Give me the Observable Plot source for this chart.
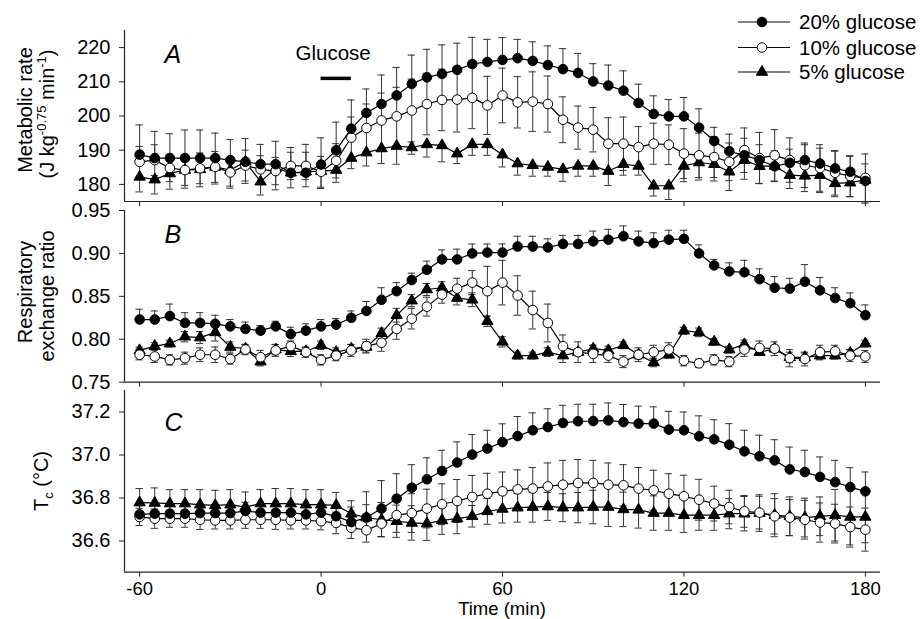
<!DOCTYPE html>
<html><head><meta charset="utf-8">
<script src="https://cdn.jsdelivr.net/npm/d3@7"></script>
<script src="https://cdn.jsdelivr.net/npm/@observablehq/plot@0.6"></script>
<style>
body{margin:0;background:#fff;}
#wrap{position:relative;width:922px;height:619px;overflow:hidden;font-family:"Liberation Sans",Arial,Helvetica,sans-serif;background:#fff;}
#wrap svg{position:absolute;left:0;overflow:visible;}
</style></head><body><div id="wrap"></div>
<script>
// ---- data ----
const time = [-60,-55,-50,-45,-40,-35,-30,-25,-20,-15,-10,-5,0,5,10,15,20,25,30,35,40,45,50,55,60,65,70,75,80,85,90,95,100,105,110,115,120,125,130,135,140,145,150,155,160,165,170,175,180];
const seriesNames = ["20% glucose","10% glucose","5% glucose"];
const xTicks = [-60,0,60,120,180];
const glucoseStart = 0, glucoseEnd = 10;

// Panel A: metabolic rate
const rate20 = [188.7,187.7,187.7,187.7,187.7,187.7,187.1,186.6,185.9,185.9,183.4,183.4,185.8,190.0,196.3,200.9,203.5,206.0,209.4,211.3,212.3,213.5,215.2,215.8,216.4,216.9,216.1,214.9,213.7,212.6,210.1,208.9,207.4,203.8,200.6,199.9,199.9,196.6,192.7,189.7,188.5,187.1,185.3,186.3,187.1,186.1,184.7,183.7,181.0];
const rate10 = [186.6,187.1,184.8,184.2,184.7,185.1,183.5,185.5,184.4,183.9,185.4,185.4,183.7,186.9,193.7,196.5,198.7,199.9,201.6,203.5,204.7,204.8,205.3,203.1,206.0,204.0,204.2,203.5,198.9,196.6,196.0,191.9,191.9,190.9,191.9,191.6,189.0,188.5,188.0,186.6,190.0,187.7,188.5,187.1,185.6,184.8,183.4,182.4,181.9];
const rate5 = [182.2,181.4,183.2,184.2,184.4,185.1,184.2,186.6,180.8,184.7,183.4,183.7,183.9,184.2,187.7,189.3,190.5,191.2,190.8,191.7,191.4,189.0,191.7,191.7,188.7,186.1,185.6,185.1,184.4,185.4,185.4,183.9,185.9,185.4,179.6,179.6,185.4,186.4,185.9,183.7,187.1,185.3,185.4,182.7,182.5,182.7,180.3,180.5,181.3];
const rate20Err = [8.7,7.8,7.1,8.2,8.2,7.3,6.0,6.8,5.8,6.7,7.4,8.3,7.8,8.2,8.4,7.0,8.5,8.2,8.4,8.2,8.5,7.8,7.8,6.6,6.5,5.5,5.6,5.6,6.0,5.7,5.2,6.0,5.8,5.5,5.3,4.9,5.5,5.5,4.0,5.0,5.0,4.5,4.5,4.0,4.5,4.5,5.0,4.5,5.0];
const rate10Err = [4.5,4.5,4.0,4.5,4.5,4.5,4.0,4.5,4.0,4.0,4.0,4.0,4.5,5.0,6.0,7.0,8.0,8.5,9.2,9.0,9.0,9.5,9.0,8.5,8.0,7.5,8.7,8.2,6.7,6.3,6.5,7.6,7.8,6.0,6.0,5.8,7.3,6.5,6.0,5.5,6.5,7.5,7.5,6.5,6.5,6.8,6.5,6.0,7.0];
const rate5Err = [4.4,4.2,4.6,5.3,5.1,5.0,5.3,6.3,3.9,6.3,4.4,4.4,5.1,3.6,3.1,3.9,4.4,5.3,2.0,3.7,4.8,2.9,3.2,3.2,3.6,3.4,3.2,2.7,3.5,3.0,3.0,4.2,3.2,2.7,3.0,4.0,4.6,5.1,4.9,5.5,5.6,5.0,4.6,3.9,4.6,5.1,3.9,4.1,6.8];
const rateTicks = [180,190,200,210,220];

// Panel B: respiratory exchange ratio
const rer20 = [0.823,0.823,0.827,0.819,0.819,0.818,0.815,0.812,0.810,0.815,0.806,0.810,0.815,0.817,0.825,0.833,0.846,0.856,0.869,0.881,0.893,0.893,0.900,0.901,0.901,0.908,0.908,0.907,0.911,0.911,0.914,0.916,0.920,0.914,0.912,0.916,0.917,0.900,0.886,0.879,0.878,0.870,0.860,0.859,0.867,0.857,0.848,0.842,0.828];
const rer10 = [0.782,0.780,0.776,0.778,0.782,0.782,0.777,0.788,0.779,0.787,0.792,0.785,0.776,0.781,0.787,0.792,0.796,0.812,0.824,0.838,0.852,0.859,0.866,0.856,0.866,0.851,0.834,0.819,0.792,0.785,0.783,0.781,0.774,0.782,0.785,0.788,0.775,0.772,0.776,0.774,0.788,0.790,0.789,0.778,0.777,0.785,0.786,0.781,0.780];
const rer5 = [0.787,0.792,0.795,0.803,0.802,0.808,0.791,0.789,0.774,0.788,0.786,0.786,0.793,0.785,0.789,0.791,0.807,0.828,0.845,0.858,0.860,0.848,0.846,0.821,0.797,0.781,0.781,0.785,0.781,0.785,0.789,0.787,0.793,0.782,0.773,0.782,0.810,0.808,0.797,0.788,0.794,0.785,0.789,0.779,0.779,0.781,0.781,0.784,0.795];
const rer20Err = [0.012,0.010,0.014,0.012,0.012,0.010,0.008,0.008,0.006,0.006,0.008,0.008,0.008,0.007,0.008,0.011,0.014,0.010,0.008,0.010,0.011,0.012,0.011,0.010,0.010,0.012,0.012,0.010,0.010,0.010,0.012,0.012,0.012,0.012,0.012,0.011,0.010,0.010,0.007,0.010,0.014,0.012,0.013,0.012,0.020,0.015,0.012,0.012,0.012];
const rer10Err = [0.006,0.007,0.006,0.007,0.008,0.009,0.006,0.006,0.008,0.007,0.006,0.006,0.006,0.006,0.007,0.008,0.010,0.012,0.012,0.011,0.010,0.012,0.014,0.029,0.026,0.023,0.022,0.022,0.013,0.012,0.010,0.008,0.007,0.008,0.008,0.008,0.006,0.005,0.006,0.006,0.008,0.008,0.008,0.010,0.008,0.008,0.007,0.007,0.007];
const rer5Err = [0.004,0.004,0.004,0.006,0.007,0.010,0.006,0.005,0.005,0.006,0.006,0.004,0.005,0.005,0.005,0.006,0.006,0.008,0.007,0.007,0.007,0.008,0.008,0.006,0.006,0.004,0.004,0.005,0.008,0.004,0.004,0.005,0.004,0.005,0.005,0.004,0.004,0.005,0.004,0.004,0.005,0.004,0.004,0.006,0.005,0.005,0.004,0.004,0.004];
const rerTicks = [0.75,0.80,0.85,0.90,0.95];

// Panel C: core temperature
const tc20 = [36.724,36.727,36.727,36.727,36.730,36.730,36.730,36.740,36.732,36.732,36.732,36.724,36.732,36.715,36.688,36.709,36.751,36.797,36.848,36.887,36.926,36.965,37.002,37.030,37.060,37.088,37.115,37.130,37.149,37.157,37.158,37.161,37.153,37.146,37.146,37.118,37.115,37.087,37.073,37.048,37.017,36.994,36.975,36.933,36.921,36.898,36.874,36.851,36.831];
const tc10 = [36.712,36.704,36.704,36.704,36.699,36.696,36.696,36.699,36.699,36.699,36.696,36.696,36.692,36.684,36.662,36.650,36.681,36.720,36.730,36.751,36.771,36.786,36.805,36.820,36.831,36.840,36.844,36.854,36.862,36.870,36.870,36.862,36.859,36.844,36.836,36.820,36.808,36.792,36.774,36.758,36.738,36.732,36.715,36.709,36.699,36.686,36.681,36.665,36.653];
const tc5 = [36.779,36.777,36.774,36.774,36.769,36.766,36.769,36.758,36.774,36.774,36.774,36.769,36.769,36.766,36.727,36.709,36.699,36.692,36.684,36.681,36.696,36.704,36.715,36.738,36.749,36.755,36.758,36.761,36.755,36.755,36.758,36.758,36.747,36.745,36.730,36.730,36.720,36.720,36.720,36.727,36.727,36.730,36.720,36.715,36.709,36.715,36.720,36.712,36.712];
const tc20Err = [0.04,0.04,0.04,0.04,0.04,0.04,0.04,0.04,0.04,0.04,0.04,0.04,0.04,0.05,0.07,0.12,0.13,0.116,0.107,0.10,0.096,0.096,0.093,0.085,0.085,0.091,0.081,0.085,0.082,0.079,0.078,0.081,0.082,0.081,0.078,0.085,0.085,0.095,0.091,0.098,0.098,0.098,0.096,0.104,0.101,0.093,0.101,0.090,0.090];
const tc10Err = [0.04,0.045,0.04,0.04,0.045,0.04,0.04,0.04,0.04,0.045,0.04,0.04,0.04,0.05,0.05,0.055,0.06,0.08,0.09,0.09,0.095,0.10,0.10,0.095,0.09,0.091,0.098,0.109,0.113,0.109,0.105,0.101,0.096,0.098,0.093,0.093,0.098,0.095,0.081,0.078,0.074,0.076,0.082,0.084,0.09,0.091,0.09,0.093,0.1];
const tc5Err = [0.065,0.07,0.065,0.065,0.07,0.07,0.07,0.07,0.065,0.07,0.07,0.07,0.07,0.06,0.06,0.06,0.08,0.075,0.08,0.078,0.065,0.07,0.05,0.06,0.065,0.067,0.07,0.065,0.065,0.07,0.078,0.09,0.08,0.085,0.08,0.08,0.08,0.07,0.07,0.07,0.08,0.085,0.1,0.09,0.09,0.09,0.12,0.13,0.12];
const tcTicks = [36.6,36.8,37.0,37.2];

// ---- drawing ----
const FONT = '"Liberation Sans",Arial,Helvetica,sans-serif';
const W = 922;
const xDomain = [-65, 185];
const wrap = document.getElementById("wrap");
const seriesStyle = [
  {fill: "black", symbol: "circle", r: 4.8},
  {fill: "white", symbol: "circle", r: 4.8},
  {fill: "black", symbol: "triangle", r: 4.2}
];

function rows(vals, errs, dirs) {
  return vals.map((arr, s) => time.map((t, i) => {
    const v = arr[i], e = errs[s][i], d = dirs[s];
    return {t, v, s,
      lo: d === "up" ? v : v - e,
      hi: d === "down" ? v : v + e,
      capLo: d !== "up", capHi: d !== "down"};
  }));
}

function panel(o) {
  const data = rows(o.vals, o.errs, o.dirs);
  const all = data.flat();
  const cap = 1.2;
  const marks = [
    Plot.ruleX(all, {x: "t", y1: "lo", y2: "hi", stroke: "#333", strokeWidth: 1}),
    Plot.ruleY(all.filter(d => d.capHi), {y: "hi", x1: d => d.t - cap, x2: d => d.t + cap, stroke: "#333", strokeWidth: 1}),
    Plot.ruleY(all.filter(d => d.capLo), {y: "lo", x1: d => d.t - cap, x2: d => d.t + cap, stroke: "#333", strokeWidth: 1}),
  ];
  [2, 1, 0].forEach(s => {
    const st = seriesStyle[s];
    marks.push(Plot.line(data[s], {x: "t", y: "v", stroke: "black", strokeWidth: 1.2}));
    marks.push(Plot.dot(data[s], {x: "t", y: "v", r: st.r, symbol: st.symbol, fill: st.fill, stroke: "black", strokeWidth: 1}));
  });
  marks.push(
    Plot.ruleY([o.domain[0]], {stroke: "#222", strokeWidth: 1.2}),
    Plot.ruleX([xDomain[0]], {stroke: "#222", strokeWidth: 1.2}),
    Plot.axisY({ticks: o.ticks, tickSize: 5, tickPadding: 9, tickFormat: o.fmt, label: null, fontSize: 20, stroke: "#222"}),
    Plot.axisX({ticks: xTicks, tickSize: 5, tickPadding: 5, tickFormat: o.showX ? (d => d) : (() => ""), label: null, fontSize: 18.5, stroke: "#222"}),
    Plot.text([o.letter], {text: d => d, frameAnchor: "top-left", dx: 40, dy: o.letterDy, lineAnchor: "top", textAnchor: "start", fontSize: 25, fontStyle: "italic"})
  );
  if (o.extra) marks.push(...o.extra);
  const svg = Plot.plot({
    width: W, height: o.height,
    marginLeft: 124, marginRight: 42, marginTop: o.mt, marginBottom: o.mb,
    x: {domain: xDomain},
    y: {domain: o.domain},
    style: {background: "transparent", fontFamily: FONT, fontSize: "20px", color: "black", overflow: "visible"},
    marks
  });
  svg.style.top = o.top + "px";
  wrap.appendChild(svg);
}

panel({
  vals: [rate20, rate10, rate5], errs: [rate20Err, rate10Err, rate5Err], dirs: ["up", "both", "down"],
  domain: [175, 225], ticks: rateTicks, fmt: d3.format("d"),
  top: 0, height: 211, mt: 30, mb: 10, showX: false, letter: "A", letterDy: 15,
  extra: [
    Plot.ruleY([211], {x1: glucoseStart, x2: glucoseEnd, stroke: "black", strokeWidth: 3.5}),
    Plot.text(["Glucose"], {x: (glucoseStart + glucoseEnd) / 2 - 1, y: 218.4, text: d => d, fontSize: 20.5, textAnchor: "middle", lineAnchor: "middle"})
  ]
});
panel({
  vals: [rer20, rer10, rer5], errs: [rer20Err, rer10Err, rer5Err], dirs: ["up", "both", "both"],
  domain: [0.75, 0.95], ticks: rerTicks, fmt: d3.format(".2f"),
  top: 200, height: 192, mt: 10, mb: 10.3, showX: false, letter: "B", letterDy: 15
});
panel({
  vals: [tc20, tc10, tc5], errs: [tc20Err, tc10Err, tc5Err], dirs: ["up", "both", "both"],
  domain: [36.455, 37.3], ticks: tcTicks, fmt: d3.format(".1f"),
  top: 380, height: 239, mt: 10, mb: 47.3, showX: true, letter: "C", letterDy: 23
});

// overlay: axis titles and legend
const ov = d3.select(wrap).append("svg").attr("width", W).attr("height", 619)
  .style("top", "0px").style("font-family", FONT).style("pointer-events", "none");

function vtitle(x, y, text) {
  ov.append("text").attr("transform", `translate(${x},${y}) rotate(-90)`)
    .attr("text-anchor", "middle").attr("font-size", 20).text(text);
}
vtitle(32, 110, "Metabolic rate");
const t2 = ov.append("text").attr("transform", "translate(54,114) rotate(-90)").attr("text-anchor", "middle").attr("font-size", 20);
t2.append("tspan").text("(J kg");
t2.append("tspan").text("-0.75").attr("font-size", 13).attr("dy", -8);
t2.append("tspan").text(" min").attr("dy", 8);
t2.append("tspan").text("-1").attr("font-size", 13).attr("dy", -8);
t2.append("tspan").text(")").attr("dy", 8);

vtitle(32, 292, "Respiratory");
vtitle(54, 296, "exchange ratio");
const t3 = ov.append("text").attr("transform", "translate(48,481) rotate(-90)").attr("text-anchor", "middle").attr("font-size", 20);
t3.append("tspan").text("T");
t3.append("tspan").text("c").attr("font-size", 13).attr("dy", 5);
t3.append("tspan").text(" (°C)").attr("dy", -5);

ov.append("text").attr("x", 502).attr("y", 615).attr("text-anchor", "middle").attr("font-size", 18.5).text("Time (min)");

// legend
const legY = [22, 47.5, 72];
seriesNames.forEach((name, i) => {
  const g = ov.append("g").attr("transform", `translate(0,${legY[i]})`);
  g.append("line").attr("x1", 738).attr("x2", 790).attr("y1", 0).attr("y2", 0).attr("stroke", "black").attr("stroke-width", 1.2);
  const st = seriesStyle[i];
  const sym = st.symbol === "triangle" ? d3.symbolTriangle : d3.symbolCircle;
  g.append("path").attr("d", d3.symbol(sym, Math.PI * st.r * st.r)()).attr("transform", "translate(762,0)")
    .attr("fill", st.fill).attr("stroke", "black").attr("stroke-width", 1);
  g.append("text").attr("x", 799).attr("y", 0).attr("dy", "0.35em").attr("font-size", 20.5).text(name);
});
</script>
</body></html>
